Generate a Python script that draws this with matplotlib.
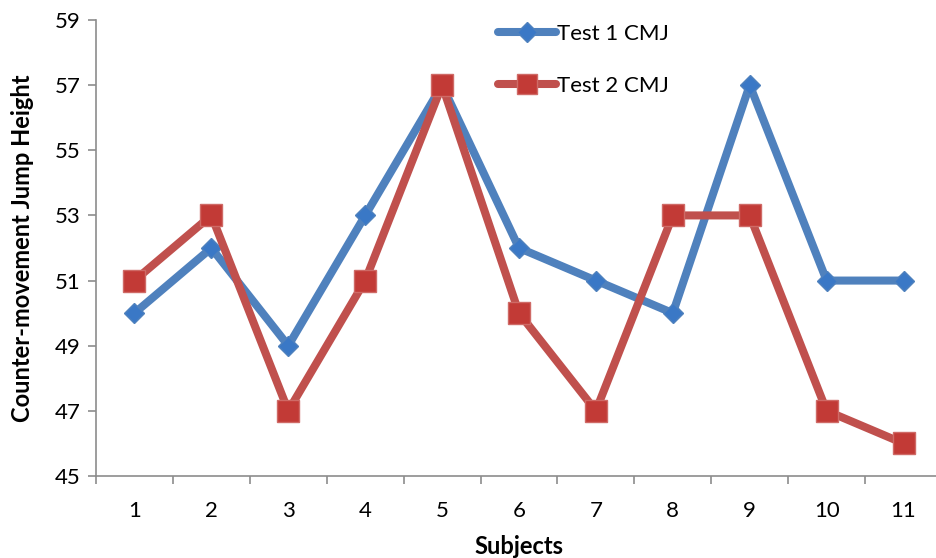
import matplotlib.pyplot as plt
from matplotlib.lines import Line2D

subjects = [1, 2, 3, 4, 5, 6, 7, 8, 9, 10, 11]
test1 = [50, 52, 49, 53, 57, 52, 51, 50, 57, 51, 51]
test2 = [51, 53, 47, 51, 57, 50, 47, 53, 53, 47, 46]
yticks = [45, 47, 49, 51, 53, 55, 57, 59]

plt.rcParams['font.family'] = ['Lato', 'DejaVu Sans']

blue = '#4F81BD'
red = '#C0504D'

fig = plt.figure(figsize=(9.36, 5.58), dpi=100)
ax = fig.add_axes([96 / 936, 1 - 476 / 558, 846 / 936, 456 / 558])

ax.plot(subjects, test1, color=blue, lw=5.8, marker='D', markersize=10.5,
        markerfacecolor='#3A78C6', markeredgecolor=blue, markeredgewidth=1,
        label='Test 1 CMJ', zorder=3)
ax.plot(subjects, test2, color=red, lw=5.8, marker='s', markersize=16,
        markerfacecolor='#C23A36', markeredgecolor='#CF6A66',
        markeredgewidth=1, label='Test 2 CMJ', zorder=4)

ax.set_xlim(0.5, 11.5)
ax.set_ylim(45, 59)
ax.set_yticks(yticks)
ax.set_xticks(subjects)
ax.set_xticks([x + 0.5 for x in [0] + subjects], minor=True)
ax.tick_params(axis='x', which='major', length=0, pad=18, labelsize=16)
ax.tick_params(axis='x', which='minor', length=6, color='#8C8C8C',
               width=1.2)
ax.tick_params(axis='y', length=6, color='#8C8C8C', width=1.2, pad=5,
               labelsize=16)

for s in ['top', 'right']:
    ax.spines[s].set_visible(False)
for s in ['left', 'bottom']:
    ax.spines[s].set_color('#8C8C8C')
    ax.spines[s].set_linewidth(1.2)

ax.set_xlabel('Subjects', fontsize=17, fontweight='bold', labelpad=10)
ax.set_ylabel('Counter-movement Jump Height', fontsize=17,
              fontweight='bold', labelpad=15)

handles = [
    Line2D([], [], color=blue, lw=5.8, marker='D', markersize=10.5,
           markerfacecolor='#3A78C6', markeredgecolor=blue,
           solid_capstyle='round'),
    Line2D([], [], color=red, lw=5.8, marker='s', markersize=14,
           markerfacecolor='#C23A36', markeredgecolor='#CF6A66',
           solid_capstyle='round'),
]
ax.legend(handles, ['Test 1 CMJ', 'Test 2 CMJ'], loc='upper left',
          bbox_to_anchor=(0.452, 1.036), frameon=False, fontsize=16,
          handlelength=2.6, handletextpad=0.05, labelspacing=1.45)

fig.savefig('out.png', dpi=100)
